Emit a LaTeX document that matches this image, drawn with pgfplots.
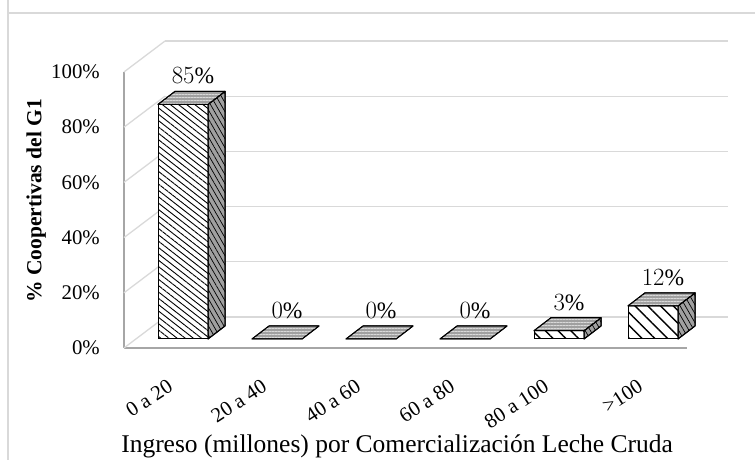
\documentclass[border=0pt]{standalone}
\usepackage{fontspec}
\setmainfont{Liberation Serif}
\usepackage{pgfplots}
\pgfplotsset{compat=1.18}
\usetikzlibrary{patterns.meta}
\definecolor{gridc}{HTML}{D9D9D9}
\definecolor{axc}{HTML}{A6A6A6}
\definecolor{facegray}{HTML}{A0A0A0}
\newcommand\tf{\fontsize{20.8bp}{25bp}\selectfont}
\newcommand\df{\fontsize{23.5bp}{28bp}\selectfont}
\newcommand\xf{\fontsize{25.5bp}{29bp}\selectfont}
\newcommand\yf{\fontsize{21.5bp}{25bp}\selectfont}
\tikzset{
  topface/.style={draw=black, line width=1bp, line join=round, fill=facegray,
    postaction={pattern={Lines[angle=0,distance=3bp,line width=0.7bp]}, pattern color=white!70!gray}},
  sideface/.style={draw=black, line width=1bp, line join=round, fill=facegray,
    postaction={pattern={Lines[angle=-60,distance=4.5bp,line width=0.7bp]}, pattern color=black}},
}
\newcommand\barfaces[2]{%
  \pgfmathsetmacro\xa{#1-0.266}%
  \pgfmathsetmacro\xb{#1+0.266}%
  \pgfmathsetmacro\xc{#1+0.447}%
  \pgfmathsetmacro\xd{#1-0.085}%
  \pgfmathsetmacro\yt{#2+4.71}%
  \edef\tempside{\noexpand\addplot[sideface] coordinates {(\xb,0) (\xc,4.71) (\xc,\yt) (\xb,#2)} -- cycle;}%
  \edef\temptop{\noexpand\addplot[topface] coordinates {(\xa,#2) (\xb,#2) (\xc,\yt) (\xd,\yt)} -- cycle;}%
  \ifdim #2pt>0pt \tempside\fi
  \temptop
}
\begin{document}
\begin{tikzpicture}
\path[use as bounding box] (0,0) rectangle (755bp,460bp);
\draw[gridc, line width=1.3bp] (8bp,470bp) -- (8bp,447bp) -- (760bp,447bp);
\draw[gridc, line width=1.3bp] (8bp,447bp) -- (8bp,-5bp);
\begin{axis}[
  anchor=origin, at={(183bp,121bp)},
  x=94bp, y=2.76bp,
  xmin=-0.628, xmax=5.362, ymin=-3.26, ymax=96.74,
  clip=false,
  axis lines*=left,
  axis line style={draw=axc, line width=1.3bp, -},
  tick style={draw=none},
  ytick={-3.26,16.74,36.74,56.74,76.74,96.74},
  yticklabels={0\%,20\%,40\%,60\%,80\%,100\%},
  yticklabel style={font=\tf, inner sep=0pt, anchor=east, xshift=-24bp},
  xtick={-0.128,0.872,1.872,2.872,3.872,4.872},
  xticklabels={0 a 20,20 a 40,40 a 60,60 a 80,80 a 100,>100},
  xticklabel style={font=\tf, rotate=33, anchor=north east, inner sep=0pt, yshift=-23bp, xshift=-20bp},
  xlabel={Ingreso (millones) por Comercialización Leche Cruda},
  xlabel style={font=\xf, at={(axis description cs:0.485,-0.355)}, anchor=center},
  ylabel={\% Coopertivas del G1},
  ylabel style={font=\yf\bfseries, at={(axis description cs:-0.156,0.533)}, anchor=center},
]
% back wall and left wall grid
\draw[gridc, line width=1.3bp] (axis cs:-0.191,7.97) -- (axis cs:5.80,7.97);
\draw[gridc, line width=1.3bp] (axis cs:-0.191,27.97) -- (axis cs:5.80,27.97);
\draw[gridc, line width=1.3bp] (axis cs:-0.191,47.97) -- (axis cs:5.80,47.97);
\draw[gridc, line width=1.3bp] (axis cs:-0.191,67.97) -- (axis cs:5.80,67.97);
\draw[gridc, line width=1.3bp] (axis cs:-0.191,87.97) -- (axis cs:5.80,87.97);
\draw[gridc, line width=1.3bp] (axis cs:-0.191,107.97) -- (axis cs:5.80,107.97);
\draw[gridc, line width=1.3bp] (axis cs:-0.628,-3.26) -- (axis cs:-0.191,7.97);
\draw[gridc, line width=1.3bp] (axis cs:-0.628,16.74) -- (axis cs:-0.191,27.97);
\draw[gridc, line width=1.3bp] (axis cs:-0.628,36.74) -- (axis cs:-0.191,47.97);
\draw[gridc, line width=1.3bp] (axis cs:-0.628,56.74) -- (axis cs:-0.191,67.97);
\draw[gridc, line width=1.3bp] (axis cs:-0.628,76.74) -- (axis cs:-0.191,87.97);
\draw[gridc, line width=1.3bp] (axis cs:-0.628,96.74) -- (axis cs:-0.191,107.97);
% front faces
\addplot[ybar, bar width=50bp, bar shift=0pt, draw=black, line width=1bp, fill=white,
  postaction={pattern={Lines[angle=-38,distance=5bp,line width=0.9bp]}, pattern color=black}]
  coordinates {(0,85) (1,0) (2,0) (3,0)};
\addplot[ybar, bar width=50bp, bar shift=0pt, draw=black, line width=1bp, fill=white,
  postaction={pattern={Lines[angle=-45,distance=9bp,line width=1.4bp]}, pattern color=black}]
  coordinates {(4,3) (5,12)};
% side and top faces
\barfaces{0}{85}
\barfaces{1}{0}
\barfaces{2}{0}
\barfaces{3}{0}
\barfaces{4}{3}
\barfaces{5}{12}
% data labels
\addplot[only marks, mark=none, nodes near coords={\pgfmathprintnumber{\pgfplotspointmeta}\%},
  every node near coord/.append style={font=\df, text=black, anchor=south, xshift=10bp, yshift=20bp, inner sep=0pt}]
  coordinates {(0,85) (1,0) (2,0) (3,0) (4,3) (5,12)};
\end{axis}
\end{tikzpicture}
\end{document}
